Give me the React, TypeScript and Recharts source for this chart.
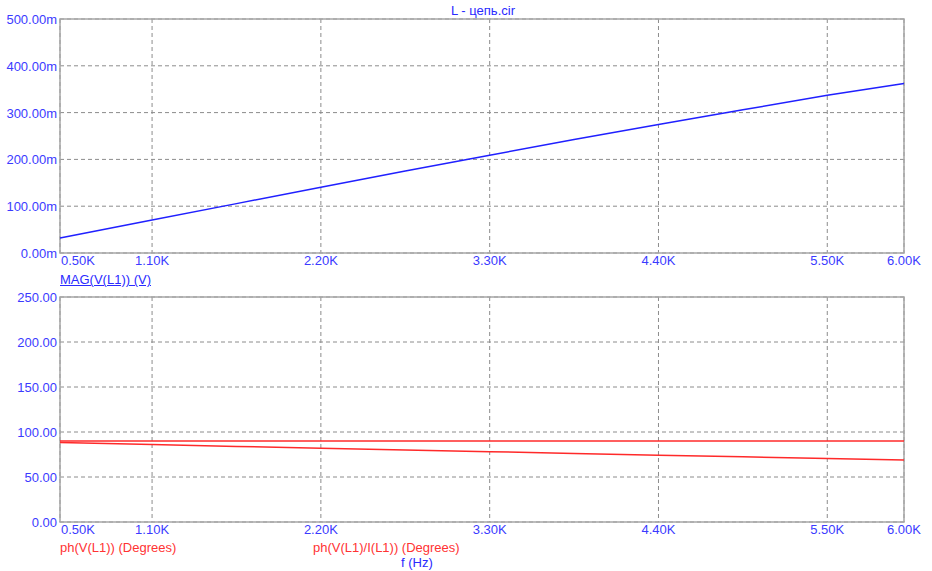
import { LineChart, Line, XAxis, YAxis, CartesianGrid, ReferenceArea } from 'recharts'

// frequency in Hz
const freq = [500, 1100, 1650, 2200, 2750, 3300, 3850, 4400, 4950, 5500, 6000]
// MAG(V(L1)) in volts
const magVL1 = [0.032, 0.0705, 0.1055, 0.1405, 0.175, 0.209, 0.2425, 0.2745, 0.306, 0.337, 0.362]
// ph(V(L1)) in degrees
const phVL1 = [88.2, 86.0, 84.0, 82.0, 80.0, 78.1, 76.2, 74.3, 72.4, 70.6, 69.0]
// ph(V(L1)/I(L1)) in degrees
const phZL1 = [90, 90, 90, 90, 90, 90, 90, 90, 90, 90, 90]

const xTicks = [500, 1100, 2200, 3300, 4400, 5500, 6000]
const magTicks = [0, 0.1, 0.2, 0.3, 0.4, 0.5]
const phTicks = [0, 50, 100, 150, 200, 250]

const topData = freq.map((f, i) => ({ f, mag: magVL1[i] }))
const bottomData = freq.map((f, i) => ({ f, ph: phVL1[i], phz: phZL1[i] }))

const FONT = '"Liberation Sans", Arial, sans-serif'
const TICK_BLUE = '#3b3bff'
const GRID = '#8c8c8c'
const BORDER = '#a6a6a6'

const XTick = (props: any) => {
  const { x, y, payload } = props
  const first = payload.value === 500
  return (
    <text x={first ? x + 1 : x} y={y} dy={4} textAnchor={first ? 'start' : 'middle'}
      fill={TICK_BLUE} fontSize={13} fontFamily={FONT}>
      {(payload.value / 1000).toFixed(2)}K
    </text>
  )
}

const makeYTick = (fmt: (v: number) => string) => (props: any) => {
  const { y, payload } = props
  return (
    <text x={57} y={y} dy={5} textAnchor="end" fill={TICK_BLUE} fontSize={13} fontFamily={FONT}>
      {fmt(payload.value)}
    </text>
  )
}

const MagTick = makeYTick(v => (v * 1000).toFixed(2) + 'm')
const PhTick = makeYTick(v => v.toFixed(2))

const label = (left: number, top: number, color: string, text: string, underline = false) => (
  <div style={{
    position: 'absolute', left, top, color, fontSize: 13, fontFamily: FONT,
    textDecoration: underline ? 'underline' : 'none', whiteSpace: 'nowrap', lineHeight: '15px',
  }}>{text}</div>
)

export default function App() {
  return (
    <div style={{ position: 'fixed', left: 0, top: 0, width: 932, height: 571, background: '#fff', overflow: 'hidden' }}>
      <div style={{ position: 'absolute', left: 0, width: 932, top: 3, textAlign: 'center', color: '#2a2aff', fontSize: 13, fontFamily: FONT, paddingLeft: 34, boxSizing: 'border-box' }}>
        L - цепь.cir
      </div>

      <div style={{ position: 'absolute', left: 0, top: 0 }}>
        <LineChart width={932} height={290} data={topData} margin={{ top: 19, right: 28, bottom: 17, left: 0 }}>
          <CartesianGrid stroke={GRID} strokeDasharray="4 3" />
          <XAxis dataKey="f" type="number" domain={[500, 6000]} ticks={xTicks} height={20}
            axisLine={false} tickLine={false} tick={<XTick />} interval={0} />
          <YAxis type="number" domain={[0, 0.5]} ticks={magTicks} width={60}
            axisLine={false} tickLine={false} tick={<MagTick />} interval={0} />
          <ReferenceArea x1={500} x2={6000} y1={0} y2={0.5} fill="none" stroke={BORDER} strokeWidth={1.5} />
          <Line type="linear" dataKey="mag" stroke="#2020ff" strokeWidth={1.5} dot={false} isAnimationActive={false} />
        </LineChart>
      </div>

      <div style={{ position: 'absolute', left: 0, top: 290 }}>
        <LineChart width={932} height={281} data={bottomData} margin={{ top: 7, right: 28, bottom: 29, left: 0 }}>
          <CartesianGrid stroke={GRID} strokeDasharray="4 3" />
          <XAxis dataKey="f" type="number" domain={[500, 6000]} ticks={xTicks} height={20}
            axisLine={false} tickLine={false} tick={<XTick />} interval={0} />
          <YAxis type="number" domain={[0, 250]} ticks={phTicks} width={60}
            axisLine={false} tickLine={false} tick={<PhTick />} interval={0} />
          <ReferenceArea x1={500} x2={6000} y1={0} y2={250} fill="none" stroke={BORDER} strokeWidth={1.5} />
          <Line type="linear" dataKey="ph" stroke="#ff2a2a" strokeWidth={1.5} dot={false} isAnimationActive={false} />
          <Line type="linear" dataKey="phz" stroke="#ff2a2a" strokeWidth={1.5} dot={false} isAnimationActive={false} />
        </LineChart>
      </div>

      {label(60, 272, '#2a2aff', 'MAG(V(L1)) (V)', true)}
      {label(60, 540, '#ff3333', 'ph(V(L1)) (Degrees)')}
      {label(313, 540, '#ff3333', 'ph(V(L1)/I(L1)) (Degrees)')}
      {label(401, 555, '#2a2aff', 'f (Hz)')}
    </div>
  )
}
